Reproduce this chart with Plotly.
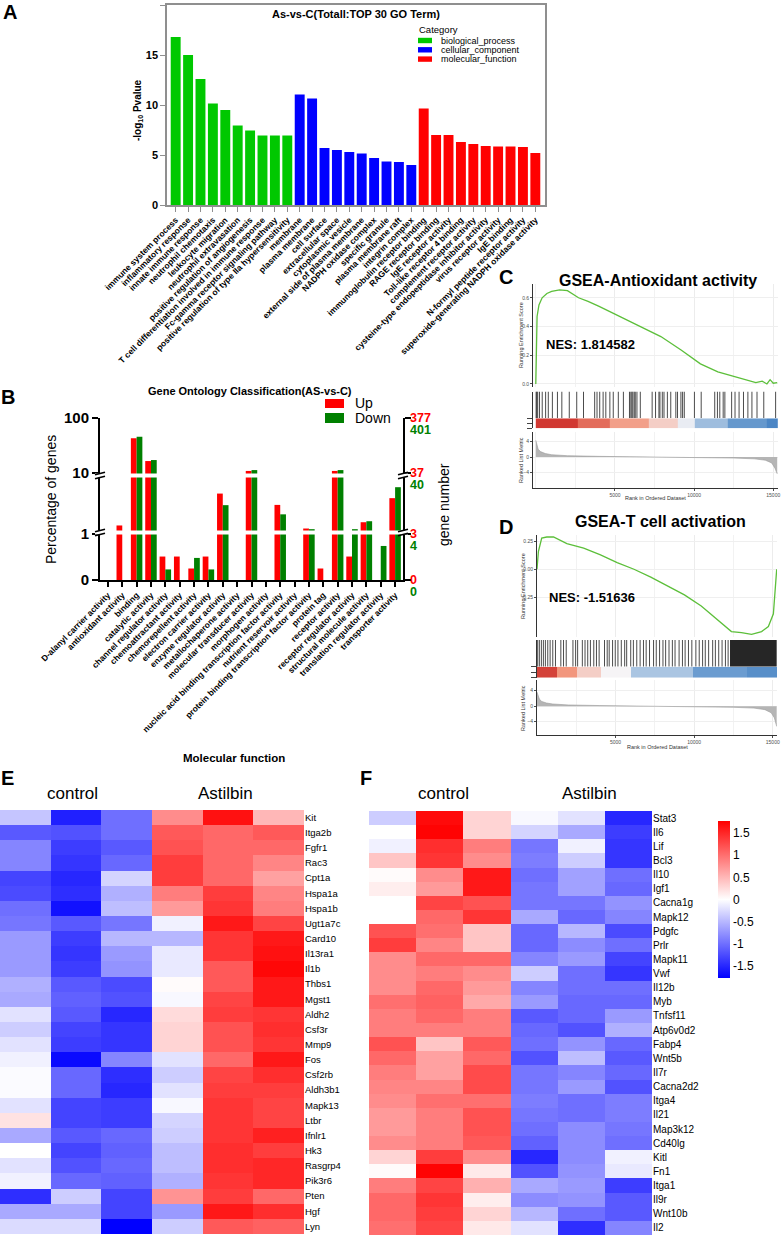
import math
import plotly.graph_objects as go

W, H = 782, 1240
FONT = "Liberation Sans, Arial, sans-serif"

# ---------------- A: top 30 GO terms ----------------
bp_terms = ["immune system process", "inflammatory response", "innate immune response",
            "neutrophil chemotaxis", "leukocyte migration", "neutrophil extravasation",
            "positive regulation of angiogenesis",
            "T cell differentiation involved in immune response",
            "Fc-gamma receptor signaling pathway",
            "positive regulation of type IIa hypersensitivity"]
bp_vals = [16.8, 15.0, 12.6, 10.15, 9.5, 7.95, 7.45, 6.95, 6.95, 6.95]
cc_terms = ["membrane", "plasma membrane", "cell surface", "extracellular space",
            "cytoplasmic vesicle", "external side of plasma membrane", "NADPH oxidase complex",
            "specific granule", "plasma membrane raft", "integrin complex"]
cc_vals = [11.05, 10.65, 5.7, 5.5, 5.3, 5.15, 4.7, 4.35, 4.3, 4.0]
mf_terms = ["immunoglobulin receptor binding", "RAGE receptor binding", "IgE receptor activity",
            "Toll-like receptor 4 binding", "complement receptor activity",
            "cysteine-type endopeptidase inhibitor activity", "virus receptor activity",
            "IgE binding", "N-formyl peptide receptor activity",
            "superoxide-generating NADPH oxidase activity"]
mf_vals = [9.65, 7.0, 7.0, 6.3, 6.1, 5.9, 5.85, 5.85, 5.8, 5.2]
go_categories = ["biological_process", "cellular_component", "molecular_function"]

# ---------------- B: GO classification ----------------
mf_classes = ["D-alanyl carrier activity", "antioxidant activity", "binding", "catalytic activity",
              "channel regulator activity", "chemoattractant activity", "chemorepellent activity",
              "electron carrier activity", "enzyme regulator activity", "metallochaperone activity",
              "molecular transducer activity", "morphogen activity",
              "nucleic acid binding transcription factor activity", "nutrient reservoir activity",
              "protein binding transcription factor activity", "protein tag", "receptor activity",
              "receptor regulator activity", "structural molecule activity",
              "translation regulator activity", "transporter activity"]
up_pct = [0, 1.38, 42.7, 16.5, 0.51, 0.51, 0.25, 0.51, 4.6, 0, 10.9, 0, 3.0, 0, 1.23, 0.25,
          10.9, 0.51, 1.56, 0, 3.87]
down_pct = [0, 0, 45.7, 17.2, 0.23, 0, 0.48, 0.23, 2.97, 0, 11.3, 0, 2.1, 0, 1.2, 0, 11.3,
            1.2, 1.62, 0.74, 5.85]
pct_ticks = [0, 1, 10, 100]
up_count_ticks = ["0", "3", "37", "377"]
down_count_ticks = ["0", "4", "40", "401"]

# ---------------- C: GSEA antioxidant activity ----------------
c_rank = [0, 30, 80, 200, 400, 700, 1000, 1500, 2000, 2700, 3300, 4000, 5300, 6600, 7900,
          9200, 10400, 11500, 12600, 13300, 13900, 14300, 14600, 14800, 15000, 15250]
c_score = [0.0, 0.35, 0.47, 0.55, 0.6, 0.63, 0.645, 0.655, 0.65, 0.6, 0.575, 0.54, 0.47, 0.4,
           0.33, 0.235, 0.14, 0.085, 0.05, 0.03, 0.01, 0.02, 0.0, 0.03, 0.005, 0.01]
c_hits = [20, 60, 120, 235, 406, 620, 790, 1047, 1367, 1645, 2115, 2585, 3013, 3718, 3867,
          4038, 4252, 4423, 4679, 4893, 5213, 5534, 5918, 6004, 6068, 6132, 6218, 6282, 6389,
          6602, 7350, 7564, 7778, 7842, 7992, 8098, 8312, 8525, 8846, 8953, 9167, 9273, 9380,
          10021, 10448, 11303, 11474, 11623, 11837, 11944, 12371, 12585, 12841, 13120, 13397,
          13653, 13974, 14401, 15149]
c_band_edges = [0, 2650, 4680, 7140, 8950, 10020, 12160, 14620, 15300]
c_band_level = [0.95, 0.7, 0.45, 0.2, -0.05, -0.35, -0.65, -0.85]
c_metric_rank = [0, 60, 150, 300, 600, 1000, 2000, 4000, 7000, 10000, 12500, 13800, 14500,
                 14900, 15100, 15250]
c_metric = [4.3, 3.0, 2.0, 1.4, 0.9, 0.6, 0.35, 0.18, 0.05, -0.1, -0.25, -0.45, -0.8, -1.5,
            -2.8, -4.3]

# ---------------- D: GSEA T cell activation ----------------
d_rank = [0, 90, 300, 620, 1050, 1900, 2970, 4040, 5100, 6170, 7240, 8310, 9380, 10450,
          11520, 12370, 13010, 13650, 14290, 14720, 15040, 15150, 15250]
d_score = [0.0, 0.16, 0.28, 0.29, 0.29, 0.23, 0.19, 0.13, 0.06, 0.0, -0.07, -0.15, -0.23,
           -0.33, -0.455, -0.56, -0.57, -0.585, -0.56, -0.515, -0.40, -0.19, 0.0]
d_hits = [43, 150, 278, 406, 534, 684, 834, 1004, 1175, 1517, 1688, 1859, 2287, 2457, 2586,
          2885, 3056, 3227, 3398, 3612, 3783, 3953, 4295, 4466, 4594, 4808, 4979, 5150, 5364,
          5578, 5706, 5962, 6133, 6347, 6561, 6775, 6946, 7159, 7416, 7587, 7800, 8014, 8185,
          8399, 8613, 8783, 9040, 9254, 9424, 9638, 9852, 10108, 10322, 10536, 10707, 10920,
          11177, 11348, 11561, 11775, 11989, 12160]
d_hit_span = [12280, 15250]
d_band_edges = [0, 1260, 2540, 4040, 5960, 9910, 13330, 15260]
d_band_level = [0.9, 0.5, 0.2, 0.0, -0.3, -0.6, -0.75]
d_metric_rank = [0, 60, 150, 300, 600, 1000, 2000, 4000, 7000, 10000, 12500, 13800, 14500,
                 14900, 15100, 15250]
d_metric = [3.6, 2.6, 1.8, 1.2, 0.8, 0.55, 0.3, 0.15, 0.03, -0.1, -0.3, -0.5, -0.9, -1.7,
            -3.0, -5.2]

# ---------------- E / F heatmaps ----------------
samples = ["control 1", "control 2", "control 3", "Astilbin 1", "Astilbin 2", "Astilbin 3"]
e_genes = ["Kit", "Itga2b", "Fgfr1", "Rac3", "Cpt1a", "Hspa1a", "Hspa1b", "Ugt1a7c", "Card10",
           "Il13ra1", "Il1b", "Thbs1", "Mgst1", "Aldh2", "Csf3r", "Mmp9", "Fos", "Csf2rb",
           "Aldh3b1", "Mapk13", "Ltbr", "Ifnlr1", "Hk3", "Rasgrp4", "Pik3r6", "Pten", "Hgf", "Lyn"]
e_z = [
    [-0.4, -1.55, -1.0, 0.8, 1.65, 0.5],
    [-1.15, -1.2, -1.0, 1.15, 1.05, 1.15],
    [-0.85, -1.35, -1.15, 1.2, 1.05, 1.05],
    [-0.85, -1.4, -1.05, 1.35, 1.05, 0.85],
    [-1.3, -1.5, -0.3, 1.35, 1.05, 0.65],
    [-1.25, -1.45, -0.55, 0.9, 1.35, 0.85],
    [-1.0, -1.65, -0.45, 0.7, 1.4, 0.9],
    [-0.95, -1.15, -0.95, -0.1, 1.6, 1.3],
    [-0.7, -1.35, -0.5, -0.5, 1.4, 1.6],
    [-0.7, -1.4, -0.7, -0.15, 1.4, 1.65],
    [-0.7, -1.35, -0.75, -0.15, 1.15, 1.72],
    [-0.55, -1.15, -1.25, 0.03, 1.15, 1.6],
    [-0.6, -1.1, -1.2, -0.05, 1.3, 1.6],
    [-0.2, -1.15, -1.5, 0.25, 1.35, 1.4],
    [-0.35, -1.3, -1.4, 0.3, 1.2, 1.45],
    [-0.2, -1.35, -1.4, 0.3, 1.2, 1.4],
    [-0.1, -1.7, -0.85, -0.2, 1.05, 1.6],
    [-0.03, -1.05, -1.45, -0.35, 1.3, 1.45],
    [-0.03, -1.05, -1.5, -0.2, 1.35, 1.35],
    [-0.2, -1.3, -1.35, -0.05, 1.4, 1.3],
    [0.2, -1.3, -1.35, -0.3, 1.4, 1.3],
    [-0.6, -1.15, -1.05, -0.35, 1.4, 1.55],
    [0.0, -1.3, -1.1, -0.45, 1.45, 1.35],
    [-0.2, -1.2, -1.05, -0.45, 1.45, 1.5],
    [-0.1, -1.05, -1.1, -0.55, 1.4, 1.5],
    [-1.45, -0.35, -1.3, 0.75, 1.35, 1.05],
    [-0.6, -0.6, -1.3, -0.7, 1.6, 1.45],
    [-0.25, -0.25, -1.77, -0.35, 1.15, 1.1],
]
f_genes = ["Stat3", "Il6", "Lif", "Bcl3", "Il10", "Igf1", "Cacna1g", "Mapk12", "Pdgfc", "Prlr",
           "Mapk11", "Vwf", "Il12b", "Myb", "Tnfsf11", "Atp6v0d2", "Fabp4", "Wnt5b", "Il7r",
           "Cacna2d2", "Itga4", "Il21", "Map3k12", "Cd40lg", "Kitl", "Fn1", "Itga1", "Il9r",
           "Wnt10b", "Il2"]
f_z = [
    [-0.35, 1.7, 0.3, -0.05, -0.2, -1.5],
    [0.0, 1.75, 0.3, -0.3, -0.6, -1.35],
    [-0.1, 1.45, 0.9, -0.95, -0.1, -1.4],
    [0.4, 1.4, 0.8, -0.9, -0.35, -1.4],
    [0.03, 0.8, 1.6, -1.0, -0.65, -1.0],
    [0.12, 0.7, 1.6, -0.95, -0.65, -1.05],
    [0.0, 1.3, 1.2, -0.95, -0.95, -0.75],
    [0.0, 1.05, 1.4, -0.6, -1.05, -0.85],
    [1.2, 1.0, 0.4, -1.05, -0.5, -1.25],
    [1.35, 0.85, 0.4, -1.05, -0.8, -1.0],
    [0.8, 1.05, 1.05, -0.85, -0.7, -1.3],
    [0.8, 0.9, 0.8, -0.35, -1.0, -1.4],
    [0.8, 1.05, 0.7, -0.85, -1.0, -1.0],
    [1.0, 1.1, 0.6, -0.7, -1.05, -1.05],
    [0.9, 1.05, 0.9, -1.15, -1.05, -0.7],
    [0.9, 0.9, 0.9, -1.05, -1.2, -0.55],
    [1.2, 0.4, 1.15, -1.0, -0.75, -1.05],
    [1.05, 0.65, 1.05, -1.2, -0.45, -1.15],
    [0.9, 0.65, 1.25, -0.95, -0.85, -1.05],
    [0.85, 0.85, 1.25, -0.95, -0.7, -1.2],
    [0.8, 1.0, 1.0, -0.9, -1.0, -0.9],
    [0.7, 0.9, 1.2, -0.95, -1.0, -0.9],
    [0.7, 0.9, 1.2, -1.0, -0.8, -0.95],
    [0.8, 0.9, 1.15, -1.1, -0.8, -1.0],
    [0.3, 1.35, 0.8, -1.5, -0.8, -0.1],
    [0.03, 1.75, 0.15, -1.2, -0.75, -0.15],
    [0.9, 1.3, 0.55, -0.6, -0.7, -1.35],
    [1.05, 1.4, 0.12, -0.8, -0.75, -1.15],
    [1.05, 1.35, 0.3, -0.5, -1.0, -1.15],
    [1.0, 1.3, 0.15, -0.2, -1.45, -0.85],
]
scale_ticks = [-1.5, -1, -0.5, 0, 0.5, 1, 1.5]


def px_x(p):
    return p / W


def px_y(p):
    return 1 - p / H


def dom_x(a, b):
    return [a / W, b / W]


def dom_y(top, bottom):
    return [1 - bottom / H, 1 - top / H]


def brk(v):
    # broken percentage axis: 0-1 linear, 1-10 and 10-100 log segments (1 unit = 1 px)
    if v <= 1:
        return v * 46
    if v <= 10:
        return 46 + 61 * math.log10(v)
    return 107 + 55 * (math.log10(v) - 1)


fig = go.Figure()
annotations = []
shapes = []


def note(text, x, y, size, bold=False, color="black", xanchor="center", yanchor="middle",
         angle=0):
    annotations.append(dict(text=text, x=px_x(x), y=px_y(y), xref="paper", yref="paper",
                            showarrow=False, xanchor=xanchor, yanchor=yanchor, textangle=angle,
                            borderpad=0,
                            font=dict(family=FONT, size=size, color=color,
                                      weight="bold" if bold else "normal")))


NOAUTO = dict(automargin=False, showgrid=False, zeroline=False)

# ---- A ----
a_colors = ["#00c800", "#0000ff", "#ff0000"]
for terms, vals, col in zip([bp_terms, cc_terms, mf_terms], [bp_vals, cc_vals, mf_vals], a_colors):
    fig.add_trace(go.Bar(x=terms, y=vals, marker=dict(color=col, line_width=0), offsetgroup="go",
                         xaxis="x", yaxis="y", showlegend=False, hoverinfo="x+y"))

grey = "#8f8f8f"
layout_axes = {}
layout_axes["xaxis"] = dict(NOAUTO, domain=dom_x(167, 545), anchor="y", range=[-0.7, 29.78],
                            categoryorder="array", categoryarray=bp_terms + cc_terms + mf_terms,
                            tickangle=-45, ticks="outside", ticklen=5, tickcolor=grey,
                            showline=True, linecolor=grey, linewidth=1.5, mirror=True,
                            tickfont=dict(family=FONT, size=8.5, weight="bold", color="black"))
layout_axes["yaxis"] = dict(NOAUTO, domain=dom_y(5, 205), anchor="x", range=[0, 20],
                            tickvals=[0, 5, 10, 15, 20], ticks="outside", ticklen=5,
                            tickcolor=grey, showline=True, linecolor=grey, linewidth=1.5,
                            mirror=True,
                            tickfont=dict(family=FONT, size=11, weight="bold", color="black"))
note("As-vs-C(Totall:TOP 30 GO Term)", 356, 14, 11, bold=True)
note("-log<sub>10</sub> Pvalue", 138, 110, 10, bold=True, angle=-90)
note("Category", 418, 30, 9.5, xanchor="left")
for i, (cat, col) in enumerate(zip(go_categories, a_colors)):
    yc = 40.5 + 9.3 * i
    shapes.append(dict(type="rect", xref="paper", yref="paper", x0=px_x(418), x1=px_x(432),
                       y0=px_y(yc + 2.7), y1=px_y(yc - 2.7), fillcolor=col, line_width=0))
    note(cat, 440, yc, 9, xanchor="left")
note("A", 10, 12, 20, bold=True)

# ---- B ----
fig.add_trace(go.Bar(x=mf_classes, y=[brk(v) for v in up_pct], marker=dict(color="#ff0000", line_width=0),
                     offsetgroup="up", xaxis="x2", yaxis="y2", showlegend=False))
fig.add_trace(go.Bar(x=mf_classes, y=[brk(v) for v in down_pct], marker=dict(color="#008000", line_width=0),
                     offsetgroup="down", xaxis="x2", yaxis="y2", showlegend=False))
layout_axes["xaxis2"] = dict(NOAUTO, domain=dom_x(100, 403), anchor="y2", range=[-0.55, 20.55],
                             tickangle=-45, ticks="outside", ticklen=5, tickwidth=1.5,
                             tickcolor="black", showline=True, linecolor="black", linewidth=2,
                             tickfont=dict(family=FONT, size=8.5, weight="bold", color="black"))
layout_axes["yaxis2"] = dict(NOAUTO, domain=dom_y(418, 580), anchor="x2", range=[0, 162],
                             tickvals=[brk(v) for v in pct_ticks],
                             ticktext=[str(v) for v in pct_ticks], ticks="outside", ticklen=6,
                             tickwidth=2, tickcolor="black", showline=True, linecolor="black",
                             linewidth=2, mirror="ticks",
                             tickfont=dict(family=FONT, size=15, weight="bold", color="black"))
for v, up_t, dn_t in zip(pct_ticks, up_count_ticks, down_count_ticks):
    yp = 580 - brk(v)
    note(up_t, 409, yp, 12.5, bold=True, color="#ff0000", xanchor="left")
    note(dn_t, 409, yp + 12, 12.5, bold=True, color="#008000", xanchor="left")
# axis breaks at 1 and 10
for top, bot in [(530.5, 534.5), (473.5, 477.5)]:
    shapes.append(dict(type="rect", xref="paper", yref="paper", x0=px_x(95), x1=px_x(408),
                       y0=px_y(bot), y1=px_y(top), fillcolor="white", line_width=0,
                       layer="above"))
    for xa in (100, 403):
        for yy in (top, bot):
            shapes.append(dict(type="line", xref="paper", yref="paper", x0=px_x(xa - 5),
                               x1=px_x(xa + 5), y0=px_y(yy + 1.2), y1=px_y(yy - 1.2),
                               line=dict(color="black", width=1.5), layer="above"))
note("Gene Ontology Classification(AS-vs-C)", 250, 391, 11, bold=True)
shapes.append(dict(type="rect", xref="paper", yref="paper", x0=px_x(325), x1=px_x(344),
                   y0=px_y(408), y1=px_y(399), fillcolor="#ff0000", line_width=0))
shapes.append(dict(type="rect", xref="paper", yref="paper", x0=px_x(325), x1=px_x(344),
                   y0=px_y(423), y1=px_y(413), fillcolor="#008000", line_width=0))
note("Up", 354, 403, 14, xanchor="left")
note("Down", 354, 418, 14, xanchor="left")
note("Percentage of genes", 51, 500, 14, angle=-90)
note("gene number", 444, 505, 14, angle=-90)
note("Molecular function", 234, 758, 11.5, bold=True)
note("B", 8, 397, 20, bold=True)

# ---- C / D: GSEA panels ----
gsea_scale = [[0, "rgb(55,120,190)"], [0.25, "rgb(120,165,212)"], [0.5, "rgb(246,244,246)"],
              [0.75, "rgb(242,150,125)"], [1, "rgb(205,45,40)"]]
tick_small = dict(family=FONT, size=5, color="#4d4d4d")


def gsea(n0, xdom, xrng, rows, score_rng, score_ticks, score_text, rank, score, hits, span,
         edges, levels, m_rank, metric, m_rng):
    xs = ["x%d" % (n0 + k) for k in range(4)]
    ys = ["y%d" % (n0 + k) for k in range(4)]
    fig.add_trace(go.Scatter(x=rank, y=score, mode="lines", line=dict(color="#5cbf3a", width=1.3),
                             xaxis=xs[0], yaxis=ys[0], showlegend=False))
    hx, hy = [], []
    for r in hits:
        hx += [r, r, None]
        hy += [0, 1, None]
    fig.add_trace(go.Scatter(x=hx, y=hy, mode="lines", line=dict(color="#1e1e1e", width=0.8),
                             xaxis=xs[1], yaxis=ys[1], showlegend=False))
    if span:
        fig.add_trace(go.Bar(x=[(span[0] + span[1]) / 2], y=[1], width=[span[1] - span[0]],
                             marker=dict(color="#262626", line_width=0), offsetgroup="span",
                             xaxis=xs[1], yaxis=ys[1], showlegend=False))
    fig.add_trace(go.Heatmap(x=edges, y=[0, 1], z=[levels], colorscale=gsea_scale, zmin=-1,
                             zmax=1, showscale=False, xaxis=xs[2], yaxis=ys[2]))
    fig.add_trace(go.Scatter(x=m_rank, y=metric, mode="lines", fill="tozeroy",
                             fillcolor="#b5b5b5", line=dict(color="#9a9a9a", width=0.6),
                             xaxis=xs[3], yaxis=ys[3], showlegend=False))
    base_x = dict(domain=xdom, range=xrng, automargin=False, showgrid=True, gridcolor="#ececec",
                  gridwidth=0.6, zeroline=False, showline=False, tickvals=[5000, 10000, 15000],
                  minor=dict(dtick=2500, tick0=0, showgrid=True, gridcolor="#f2f2f2"))
    for k in range(4):
        ax = dict(base_x, anchor=ys[k], showticklabels=False, ticks="")
        if k == 3:
            ax.update(showticklabels=True, ticks="outside", ticklen=2, tickcolor="#4d4d4d",
                      tickfont=tick_small, ticktext=["5000", "10000", "15000"],
                      showline=True, linecolor="#333", linewidth=0.8)
        if k in (1, 2):
            ax.update(showgrid=False, minor=dict(showgrid=False))
        layout_axes["xaxis%d" % (n0 + k)] = ax
    yline = dict(showline=True, linecolor="#333", linewidth=0.8, zeroline=False, automargin=False)
    layout_axes["yaxis%d" % n0] = dict(yline, domain=dom_y(*rows[0]), anchor=xs[0],
                                       range=score_rng, tickvals=score_ticks, ticktext=score_text,
                                       ticks="outside", ticklen=2, tickcolor="#4d4d4d",
                                       tickfont=tick_small, showgrid=True, gridcolor="#efefef")
    layout_axes["yaxis%d" % (n0 + 1)] = dict(yline, domain=dom_y(*rows[1]), anchor=xs[1],
                                             range=[0, 1], showticklabels=False, showgrid=False)
    layout_axes["yaxis%d" % (n0 + 2)] = dict(yline, domain=dom_y(*rows[2]), anchor=xs[2],
                                             range=[0, 1], showticklabels=False, showgrid=False)
    layout_axes["yaxis%d" % (n0 + 3)] = dict(yline, domain=dom_y(*rows[3]), anchor=xs[3],
                                             range=m_rng, tickvals=[-4, 0, 4], ticks="outside",
                                             ticklen=2, tickcolor="#4d4d4d", tickfont=tick_small,
                                             showgrid=True, gridcolor="#efefef")


gsea(3, dom_x(533, 778), [-177, 15300],
     [(284, 387), (391.5, 418.3), (418.3, 428.3), (431.7, 488.3)],
     [-0.021, 0.696], [0, 0.2, 0.4, 0.6], ["0.0", "0.2", "0.4", "0.6"],
     c_rank, c_score, c_hits, None, c_band_edges, c_band_level, c_metric_rank, c_metric, [-8, 6.5])
gsea(7, dom_x(537, 777), [0, 15270],
     [(535, 636.7), (640, 666.7), (666.7, 677.7), (680, 735)],
     [-0.606, 0.308], [-0.25, 0, 0.25], ["-0.25", "0.00", "0.25"],
     d_rank, d_score, d_hits, d_hit_span, d_band_edges, d_band_level, d_metric_rank, d_metric,
     [-7.4, 6.7])

note("GSEA-Antioxidant activity", 658, 281, 16, bold=True)
note("NES: 1.814582", 545, 345, 13, bold=True, xanchor="left")
note("Running Enrichment Score", 521, 335, 5.5, color="#333", angle=-90)
note("Ranked List Metric", 521, 460, 5.5, color="#333", angle=-90)
note("Rank in Ordered Dataset", 655, 498, 5.5, color="#333")
note("C", 506, 277, 20, bold=True)
note("GSEA-T cell activation", 660, 521, 16, bold=True)
note("NES: -1.51636", 548, 597, 13, bold=True, xanchor="left")
note("Running Enrichment Score", 523, 586, 5.5, color="#333", angle=-90)
note("Ranked List Metric", 523, 708, 5.5, color="#333", angle=-90)
note("Rank in Ordered Dataset", 657, 747, 5.5, color="#333")
note("D", 506, 527, 20, bold=True)

# ---- E / F heatmaps ----
heat_scale = [[0, "#0000ff"], [0.5, "#ffffff"], [1, "#ff0000"]]
fig.add_trace(go.Heatmap(z=e_z, x=samples, y=e_genes, colorscale=heat_scale, zmin=-1.77,
                         zmax=1.77, showscale=False, xaxis="x11", yaxis="y11"))
fig.add_trace(go.Heatmap(z=f_z, x=samples, y=f_genes, colorscale=heat_scale, zmin=-1.77,
                         zmax=1.77, xaxis="x12", yaxis="y12",
                         colorbar=dict(x=px_x(708), xanchor="left", y=px_y(811), yanchor="top",
                                       len=177, lenmode="pixels", thickness=12,
                                       thicknessmode="pixels", outlinewidth=0, ticks="",
                                       tickvals=scale_ticks,
                                       ticktext=["-1.5", "-1", "-0.5", "0", "0.5", "1", "1.5"],
                                       tickfont=dict(family=FONT, size=12, color="black"))))
for n, xd, yd, fs in [(11, dom_x(0, 304), dom_y(810, 1234), 9.5),
                      (12, dom_x(369, 652), dom_y(811, 1235), 10)]:
    layout_axes["xaxis%d" % n] = dict(NOAUTO, domain=xd, anchor="y%d" % n, showticklabels=False,
                                      ticks="")
    layout_axes["yaxis%d" % n] = dict(NOAUTO, domain=yd, anchor="x%d" % n, autorange="reversed",
                                      side="right", ticks="",
                                      tickfont=dict(family=FONT, size=fs, color="black"))
note("control", 72, 793, 17)
note("Astilbin", 226, 793, 17)
note("control", 443, 793, 17)
note("Astilbin", 589, 793, 17)
note("E", 7, 778, 20, bold=True)
note("F", 366, 778, 20, bold=True)

fig.update_layout(template="none", width=W, height=H, margin=dict(l=0, r=0, t=0, b=0),
                  barmode="group", bargap=0.2, bargroupgap=0, plot_bgcolor="white",
                  paper_bgcolor="white", font=dict(family=FONT, color="black"),
                  showlegend=False, annotations=annotations, shapes=shapes, **layout_axes)
fig.write_html("out.html", config={"displayModeBar": False},
               post_script="document.body.style.margin='0';")
